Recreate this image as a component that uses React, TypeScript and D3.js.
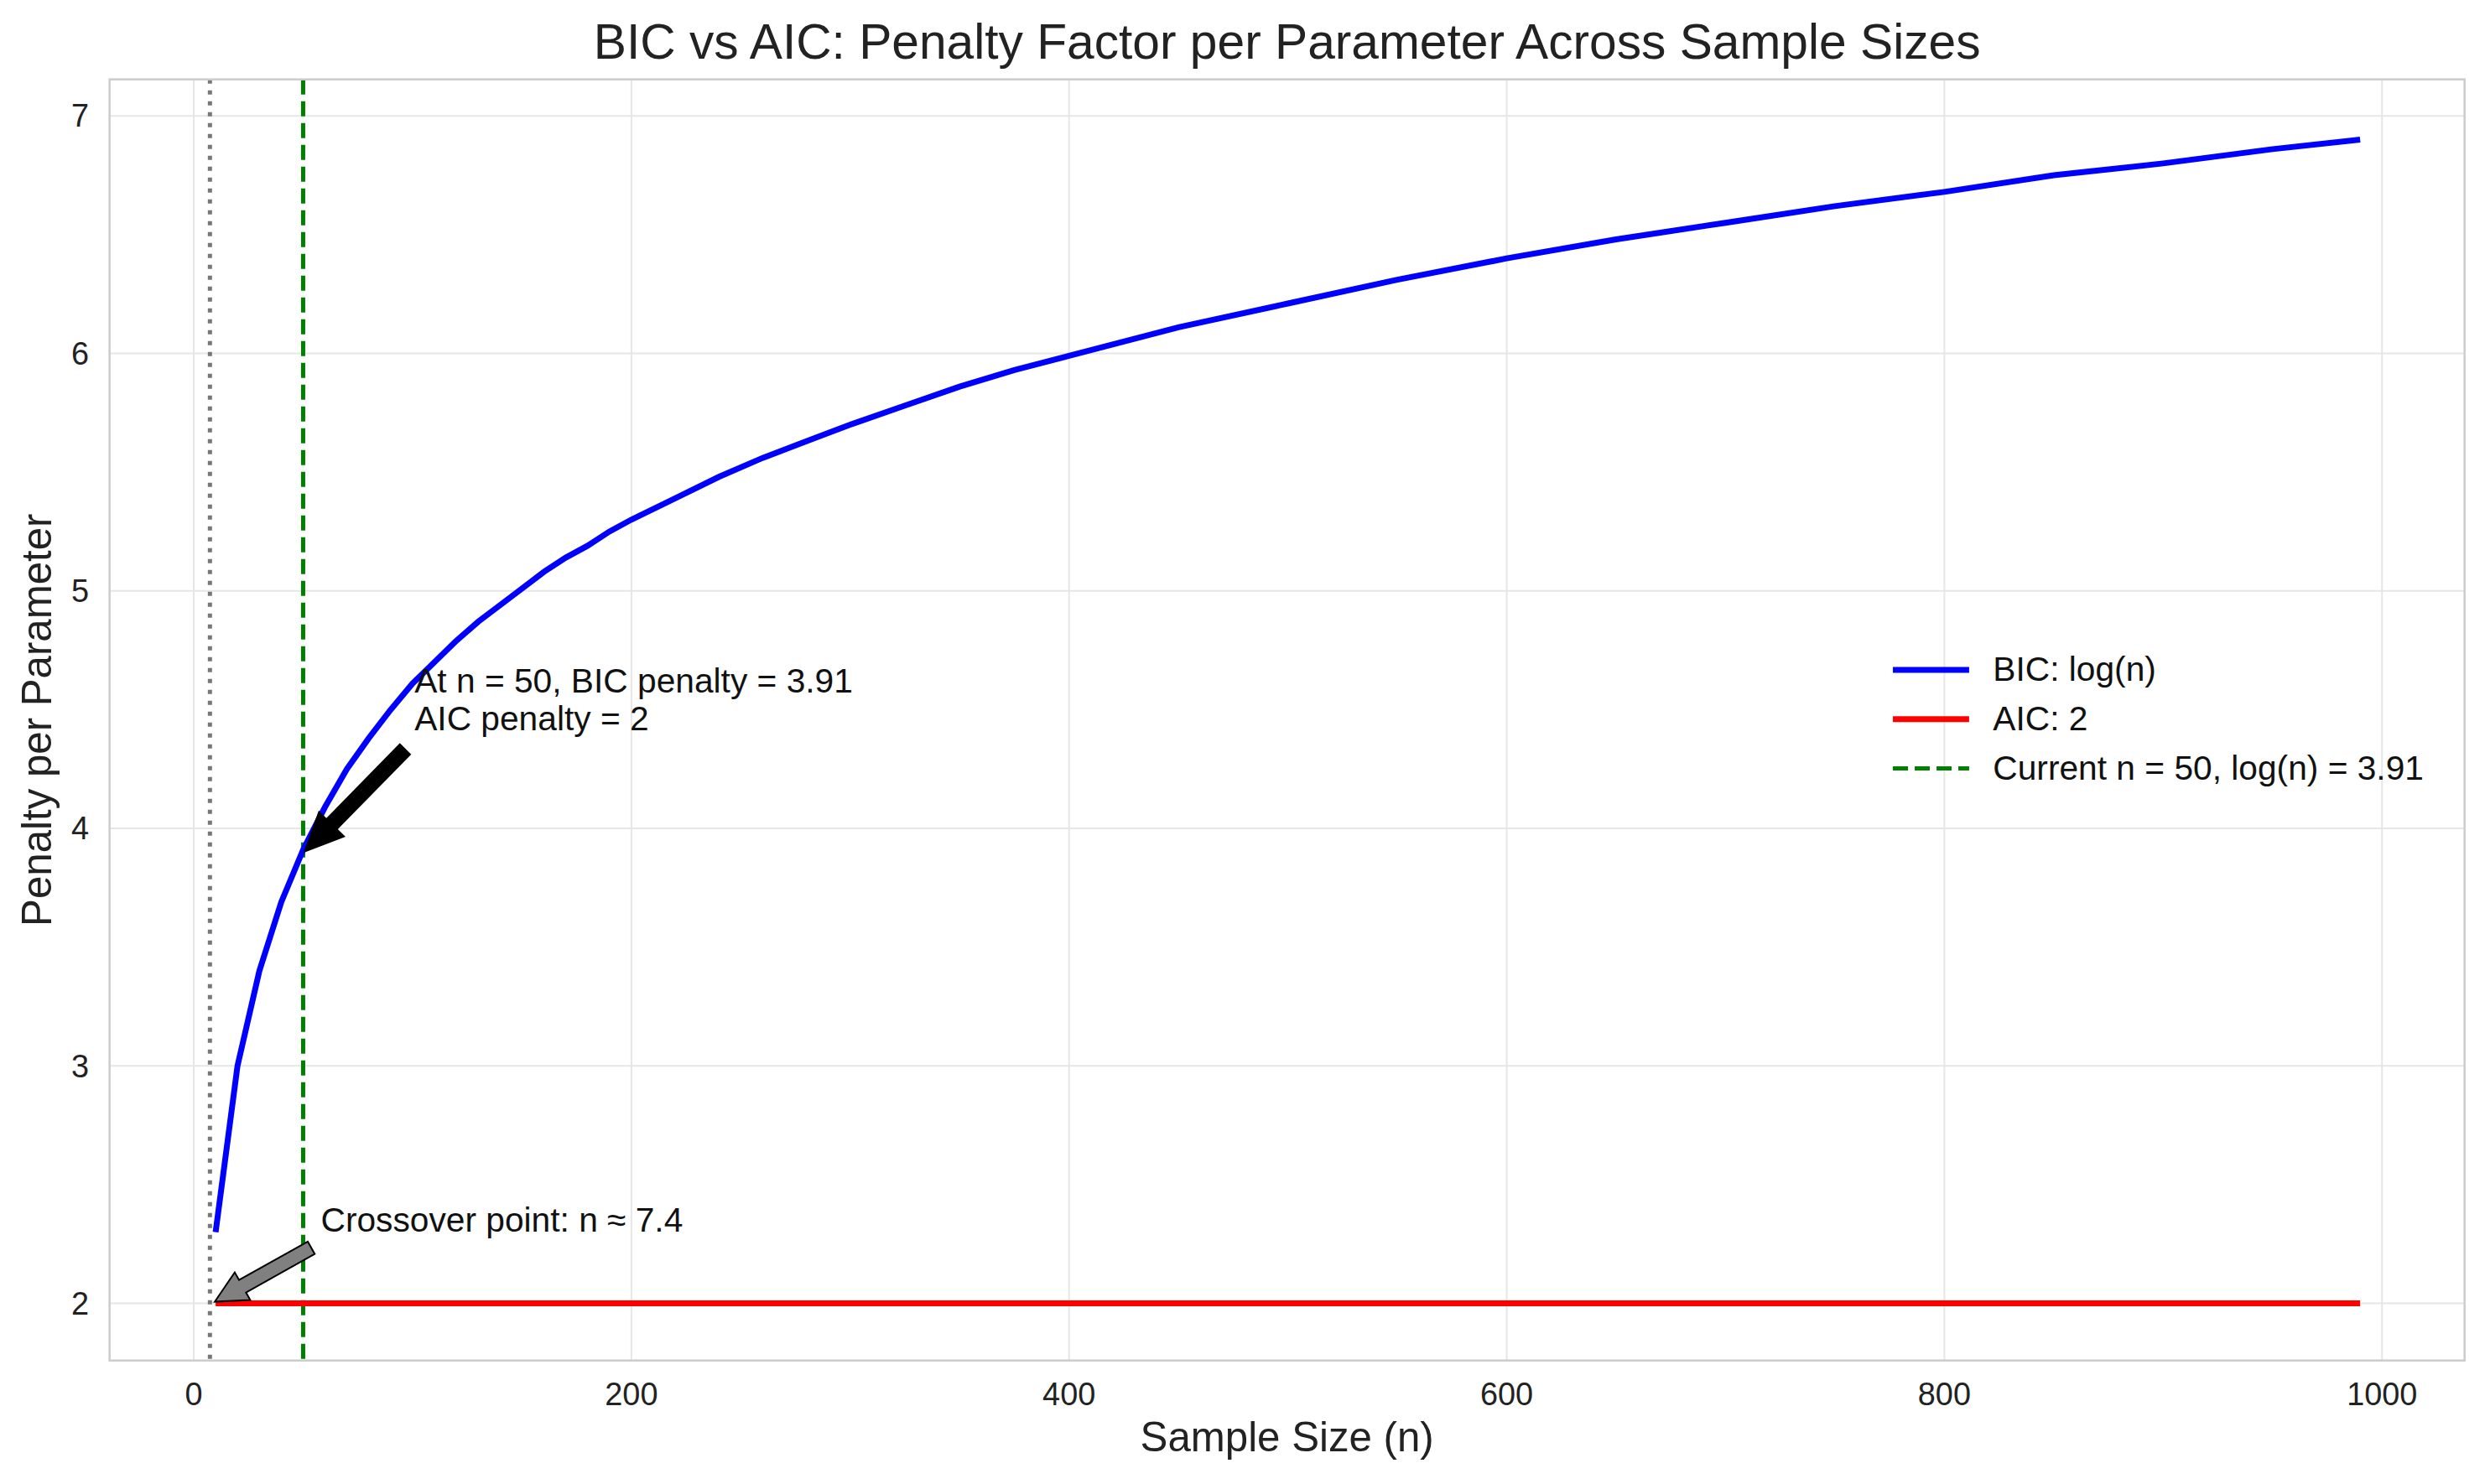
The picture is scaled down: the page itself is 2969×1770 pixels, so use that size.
import React from "react";
import * as d3 from "d3";

const bicN = [10,20,30,40,50,60,70,80,90,100,110,120,130,140,150,160,170,180,190,200,220,240,260,280,300,325,350,375,400,450,500,550,600,650,700,750,800,850,900,950,990];
const bicV = [2.30,3.00,3.40,3.69,3.91,4.09,4.25,4.38,4.50,4.61,4.70,4.79,4.87,4.94,5.01,5.08,5.14,5.19,5.25,5.30,5.39,5.48,5.56,5.63,5.70,5.78,5.86,5.93,5.99,6.11,6.21,6.31,6.40,6.48,6.55,6.62,6.68,6.75,6.80,6.86,6.90];
const aicN = [10, 990];
const aicV = [2, 2];
const currentN = 50;
const crossN = 7.4;
const xTicks = [0,200,400,600,800,1000];
const yTicks = [2,3,4,5,6,7];

const W = 2969, H = 1770, s = 2969/1568;
const L = 69*s, R = 1552*s, T = 50*s, B = 857*s;
const FONT = "Liberation Sans, Arial, sans-serif";

function arrowPoly(x1:number,y1:number,x2:number,y2:number,w:number,hw:number,hl:number){
  const dx=x2-x1, dy=y2-y1, len=Math.hypot(dx,dy);
  const ux=dx/len, uy=dy/len, px=-uy, py=ux;
  const bx=x2-ux*hl, by=y2-uy*hl;
  const p=[[x1+px*w/2,y1+py*w/2],[bx+px*w/2,by+py*w/2],[bx+px*hw/2,by+py*hw/2],[x2,y2],[bx-px*hw/2,by-py*hw/2],[bx-px*w/2,by-py*w/2],[x1-px*w/2,y1-py*w/2]];
  return p.map(q=>q.join(",")).join(" ");
}

export default function App(){
  const x = d3.scaleLinear().domain([0,1000]).range([122*s,1500*s]);
  const y = d3.scaleLinear().domain([2,7]).range([821*s,73*s]);
  const line = d3.line<[number,number]>().x(d=>x(d[0])).y(d=>y(d[1]));
  const bic = line(bicN.map((n,i)=>[n,bicV[i]]))!;
  const aic = line(aicN.map((n,i)=>[n,aicV[i]]))!;
  const fs = 21.5*s;
  const tfs = 20*s;
  return (
    <svg width={W} height={H} style={{position:"absolute",left:0,top:0,background:"#fff"}} fontFamily={FONT}>
      <defs><clipPath id="c"><rect x={L} y={T} width={R-L} height={B-T}/></clipPath></defs>
      {xTicks.map(t=><line key={"gx"+t} x1={x(t)} x2={x(t)} y1={T} y2={B} stroke="#e6e6e6" strokeWidth={2}/>)}
      {yTicks.map(t=><line key={"gy"+t} x1={L} x2={R} y1={y(t)} y2={y(t)} stroke="#e6e6e6" strokeWidth={2}/>)}
      <g clipPath="url(#c)">
        <line x1={x(crossN)} x2={x(crossN)} y1={T} y2={B} stroke="#777" strokeWidth={5} strokeDasharray="5,8"/>
        <line x1={x(currentN)} x2={x(currentN)} y1={T} y2={B} stroke="green" strokeWidth={5} strokeDasharray="18,8"/>
        <path d={bic} fill="none" stroke="blue" strokeWidth={7}/>
        <path d={aic} fill="none" stroke="red" strokeWidth={7}/>
      </g>
      <rect x={L} y={T} width={R-L} height={B-T} fill="none" stroke="#ccc" strokeWidth={2.5}/>
      {xTicks.map(t=><text key={"tx"+t} x={x(t)} y={B+28*s} fontSize={tfs} textAnchor="middle" fill="#222">{t}</text>)}
      {yTicks.map(t=><text key={"ty"+t} x={L-13*s} y={y(t)+7*s} fontSize={tfs} textAnchor="end" fill="#222">{t}</text>)}
      <text x={(L+R)/2} y={37*s} fontSize={31*s} textAnchor="middle" fill="#222">BIC vs AIC: Penalty Factor per Parameter Across Sample Sizes</text>
      <text x={(L+R)/2} y={914*s} fontSize={26*s} textAnchor="middle" fill="#222">Sample Size (n)</text>
      <text transform={`translate(${32*s},${(T+B)/2}) rotate(-90)`} fontSize={26*s} textAnchor="middle" fill="#222">Penalty per Parameter</text>
      <polygon points={arrowPoly(255*s,472*s,x(currentN)+2,y(3.91)+2,9*s,22*s,24*s)} fill="#000" stroke="#000" strokeWidth={2}/>
      <text x={261*s} y={436*s} fontSize={fs} fill="#111">At n = 50, BIC penalty = 3.91</text>
      <text x={261*s} y={460*s} fontSize={fs} fill="#111">AIC penalty = 2</text>
      <polygon points={arrowPoly(196*s,786*s,x(10)-1,y(2)-2,9*s,20*s,20*s)} fill="#808080" stroke="#000" strokeWidth={2}/>
      <text x={202*s} y={776*s} fontSize={fs} fill="#111">Crossover point: n ≈ 7.4</text>
      {[["BIC: log(n)","blue",""],["AIC: 2","red",""],["Current n = 50, log(n) = 3.91","green","18,8"]].map((d,i)=>(
        <g key={i}>
          <line x1={1192*s} x2={1240*s} y1={(422+31*i)*s} y2={(422+31*i)*s} stroke={d[1]} strokeWidth={d[2]?5:7} strokeDasharray={d[2]||undefined}/>
          <text x={1255*s} y={(422+31*i+7)*s} fontSize={fs} fill="#111">{d[0]}</text>
        </g>
      ))}
    </svg>
  );
}
